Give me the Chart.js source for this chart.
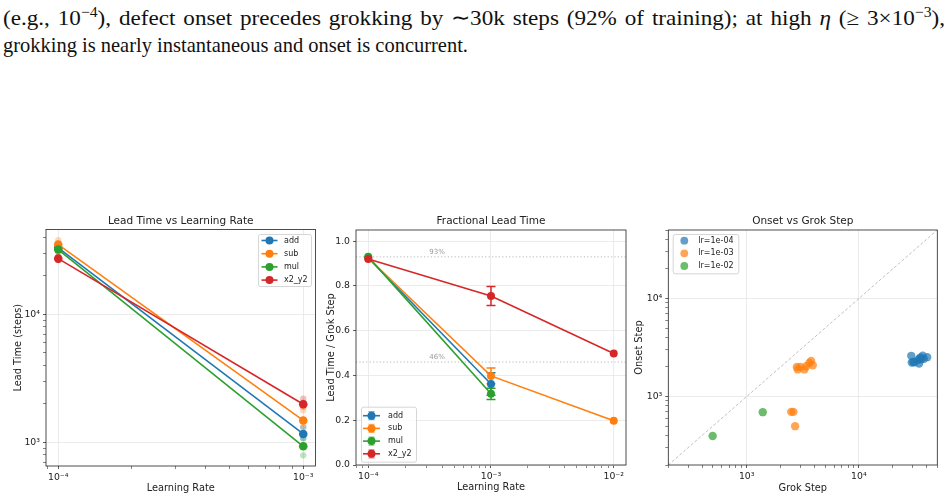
<!DOCTYPE html>
<html>
<head>
<meta charset="utf-8">
<script src="https://cdn.jsdelivr.net/npm/chart.js@4.4.0/dist/chart.umd.min.js"></script>
<style>
body { margin: 0; background: #fff; width: 951px; height: 500px; overflow: hidden; position: relative; }
.ln { position: absolute; left: 3px; font-family: 'Liberation Serif', serif; font-size: 22px; line-height: 27px; white-space: nowrap; color: #111; transform-origin: 0 0; }
.ln sup { font-size: 0.68em; line-height: 0; vertical-align: 0.55em; }
.box { position: absolute; }
</style>
</head>
<body>
<div id="t1" class="ln" style="top:4px">(e.g., 10<sup>−4</sup>), defect onset precedes grokking by ∼30k steps (92% of training); at high <i>η</i> (≥ 3×10<sup>−3</sup>),</div>
<div id="t2" class="ln" style="top:31px">grokking is nearly instantaneous and onset is concurrent.</div>

<div class="box" style="left:0;top:205px;width:320px;height:295px"><canvas id="c1"></canvas></div>
<div class="box" style="left:320px;top:205px;width:310px;height:295px"><canvas id="c2"></canvas></div>
<div class="box" style="left:630px;top:205px;width:321px;height:295px"><canvas id="c3"></canvas></div>

<script>
// ---- data ----
const tasks = ['add', 'sub', 'mul', 'x2_y2'];
const colors = ['#1f77b4', '#ff7f0e', '#2ca02c', '#d62728'];

// panel 1: lead time (steps) vs lr
const leadLrs = [1e-4, 1e-3];
const leadAdd = [33000, 1160];
const leadSub = [35000, 1480];
const leadMul = [32000, 930];
const leadX2 = [27200, 1980];
// individual runs (faint dots)
const seedLrs = [1e-4, 1e-4, 1e-4, 1e-3, 1e-3, 1e-3];
const seedAdd = [31500, 33500, 34500, 1300, 1150, 1080];
const seedSub = [37800, 34000, 33000, 1780, 1500, 1330];
const seedMul = [30500, 32500, 33500, 1075, 930, 790];
const seedX2 = [26500, 27500, 28000, 2190, 2040, 1890];

// panel 2: fractional lead time
const fracLrs = [1e-4, 1e-3, 1e-2];
const fracAdd = [0.925, 0.362, null];
const fracSub = [0.925, 0.398, 0.198];
const fracMul = [0.93, 0.318, null];
const fracX2 = [0.92, 0.755, 0.498];
const errAdd = [0, 0.05, 0];
const errSub = [0, 0.035, 0];
const errMul = [0, 0.025, 0];
const errX2 = [0, 0.042, 0];
const refLevels = [0.93, 0.46];
const refLabels = ['93%', '46%'];

// panel 3: onset vs grok step
const scatterLabels = ['lr=1e-04', 'lr=1e-03', 'lr=1e-02'];
const grok1e4 = [29300, 29600, 31300, 33500, 34700, 37100, 40600, 34400, 36000, 38000, 30500, 35500];
const onset1e4 = [2600, 2220, 2240, 2350, 2440, 2610, 2520, 2170, 2400, 2420, 2250, 2500];
const grok1e3 = [2850, 2800, 3270, 3390, 3620, 3750, 3880, 3000, 2490, 2610, 2700];
const onset1e3 = [1890, 2000, 1890, 2036, 2200, 2310, 2085, 2000, 697, 697, 498];
const grok1e2 = [497, 1390];
const onset1e2 = [396, 692];

// ---- helpers ----
const FONT = "'DejaVu Sans', sans-serif";
const SUP = {'-': '⁻', '0': '⁰', '1': '¹', '2': '²', '3': '³', '4': '⁴', '5': '⁵'};
function powLabel(v) {
  const e = Math.round(Math.log10(v));
  return '10' + String(e).split('').map(c => SUP[c]).join('');
}
function logTicks(min, max) {
  const out = [];
  for (let e = Math.floor(Math.log10(min)); e <= Math.ceil(Math.log10(max)); e++) {
    for (let m = 1; m < 10; m++) {
      const v = m * Math.pow(10, e);
      if (v >= min * 0.9999 && v <= max * 1.0001) out.push({value: v, major: m === 1});
    }
  }
  return out;
}
function pts(xs, ys) {
  return xs.map((x, i) => ({x: x, y: ys[i]})).filter(p => p.y !== null);
}
function hexA(hex, a) {
  const n = parseInt(hex.slice(1), 16);
  return 'rgba(' + (n >> 16) + ',' + ((n >> 8) & 255) + ',' + (n & 255) + ',' + a + ')';
}

function axis(type, min, max, size, isX, tickList, fmt) {
  return {
    type: type, min: min, max: max,
    afterFit: s => { if (isX) s.height = size; else s.width = size; },
    afterBuildTicks: s => { s.ticks = tickList(); },
    grid: {
      color: c => (c.tick && c.tick.major) ? '#e6e6e6' : 'rgba(0,0,0,0)',
      lineWidth: 0.8,
      tickColor: '#333',
      tickLength: 3,
      tickWidth: c => (c.tick && c.tick.major) ? 0.8 : 0.6
    },
    border: {display: false},
    ticks: {
      autoSkip: false, maxRotation: 0, padding: 3, color: '#222',
      font: {size: 9.3, family: FONT},
      callback: fmt
    }
  };
}
const logFmt = (v, i, arr) => arr[i].major ? powLabel(v) : '';

function drawLegend(ctx, L) {
  ctx.save();
  ctx.fillStyle = 'rgba(255,255,255,0.8)';
  ctx.strokeStyle = '#cccccc';
  ctx.lineWidth = 0.8;
  ctx.beginPath();
  ctx.roundRect(L.x + 0.5, L.y + 0.5, L.w, L.h, 2);
  ctx.fill();
  ctx.stroke();
  ctx.font = '8px ' + FONT;
  ctx.textBaseline = 'middle';
  L.items.forEach((it, i) => {
    const cy = L.y + L.first + i * L.step;
    if (it.kind === 'dot') {
      ctx.fillStyle = hexA(it.color, 0.7);
      ctx.beginPath(); ctx.arc(L.x + L.mark, cy, 3.9, 0, Math.PI * 2); ctx.fill();
    } else {
      const x0 = L.x + L.h0, x1 = L.x + L.h1, xm = (x0 + x1) / 2;
      ctx.strokeStyle = it.color; ctx.lineWidth = 1.6;
      ctx.beginPath(); ctx.moveTo(x0, cy); ctx.lineTo(x1, cy); ctx.stroke();
      if (it.kind === 'err') {
        ctx.strokeStyle = hexA(it.color, 0.6); ctx.lineWidth = 1.2;
        ctx.beginPath();
        ctx.moveTo(xm, cy - 4); ctx.lineTo(xm, cy + 4);
        ctx.moveTo(xm - 3, cy - 4); ctx.lineTo(xm + 3, cy - 4);
        ctx.moveTo(xm - 3, cy + 4); ctx.lineTo(xm + 3, cy + 4);
        ctx.stroke();
      }
      ctx.fillStyle = it.color;
      ctx.beginPath(); ctx.arc(xm, cy, 4, 0, Math.PI * 2); ctx.fill();
    }
    ctx.fillStyle = '#222';
    ctx.fillText(it.label, L.x + L.text, cy);
  });
  ctx.restore();
}

function deco(cfg) {
  return {
    id: 'deco',
    beforeDatasetsDraw(chart) { if (cfg.under) cfg.under(chart); },
    afterDraw(chart) {
      const ctx = chart.ctx, a = chart.chartArea;
      ctx.save();
      ctx.strokeStyle = '#222';
      ctx.lineWidth = 0.8;
      ctx.strokeRect(a.left, a.top, a.right - a.left, a.bottom - a.top);
      ctx.fillStyle = '#222';
      ctx.textAlign = 'center';
      ctx.textBaseline = 'middle';
      ctx.font = '10.5px ' + FONT;
      ctx.fillText(cfg.title, (a.left + a.right) / 2, cfg.titleY);
      ctx.font = '9.8px ' + FONT;
      ctx.fillText(cfg.xLabel, (a.left + a.right) / 2, cfg.xLabelY);
      ctx.translate(cfg.yLabelX, (a.top + a.bottom) / 2);
      ctx.rotate(-Math.PI / 2);
      ctx.fillText(cfg.yLabel, 0, 0);
      ctx.restore();
      drawLegend(ctx, cfg.legend);
    }
  };
}

function baseOptions(padTop, padRight, scales) {
  return {
    responsive: true, maintainAspectRatio: false, animation: false,
    layout: {padding: {top: padTop, right: padRight, left: 0, bottom: 0}},
    plugins: {legend: {display: false}, tooltip: {enabled: false}},
    scales: scales
  };
}

// ---- panel 1 ----
const leadSets = [leadAdd, leadSub, leadMul, leadX2];
const seedSets = [seedAdd, seedSub, seedMul, seedX2];
const ds1 = [];
tasks.forEach((t, i) => {
  ds1.push({
    label: t, data: pts(leadLrs, leadSets[i]), order: 4 - i,
    borderColor: colors[i], backgroundColor: colors[i], borderWidth: 1.6,
    pointRadius: 4.3, pointBorderWidth: 0, pointBackgroundColor: colors[i], tension: 0
  });
  ds1.push({
    label: t + ' runs', data: pts(seedLrs, seedSets[i]), order: 10 + i, showLine: false,
    pointRadius: 3.2, pointBorderWidth: 0, pointBackgroundColor: hexA(colors[i], 0.3)
  });
});
const X1 = [8.913e-5, 1.122e-3], Y1 = [652, 45900];
new Chart(document.getElementById('c1'), {
  type: 'line',
  data: {datasets: ds1},
  options: baseOptions(24.5, 4.5, {
    x: axis('logarithmic', X1[0], X1[1], 34, true, () => logTicks(X1[0], X1[1]), logFmt),
    y: axis('logarithmic', Y1[0], Y1[1], 46, false, () => logTicks(Y1[0], Y1[1]), logFmt)
  }),
  plugins: [deco({
    title: 'Lead Time vs Learning Rate', titleY: 16,
    xLabel: 'Learning Rate', xLabelY: 283,
    yLabel: 'Lead Time (steps)', yLabelX: 18,
    legend: {x: 258, y: 29, w: 53, h: 52, first: 6.5, step: 13.2, h0: 3.5, h1: 19.5, text: 26,
      items: tasks.map((t, i) => ({label: t, color: colors[i], kind: 'line'}))}
  })]
});

// ---- panel 2 ----
const fracSets = [fracAdd, fracSub, fracMul, fracX2];
const errSets = [errAdd, errSub, errMul, errX2];
const ds2 = tasks.map((t, i) => ({
  label: t, data: pts(fracLrs, fracSets[i]), order: 4 - i,
  borderColor: colors[i], backgroundColor: colors[i], borderWidth: 1.6,
  pointRadius: 4, pointBorderWidth: 0, pointBackgroundColor: colors[i], tension: 0
}));
const X2 = [7.943e-5, 0.01259];
new Chart(document.getElementById('c2'), {
  type: 'line',
  data: {datasets: ds2},
  options: baseOptions(25, 3.3, {
    x: axis('logarithmic', X2[0], X2[1], 35, true, () => logTicks(X2[0], X2[1]), logFmt),
    y: axis('linear', 0, 1.05, 36, false,
      () => [0, 0.2, 0.4, 0.6, 0.8, 1.0].map(v => ({value: v, major: true})),
      v => v.toFixed(1))
  }),
  plugins: [deco({
    title: 'Fractional Lead Time', titleY: 16,
    xLabel: 'Learning Rate', xLabelY: 282.7,
    yLabel: 'Lead Time / Grok Step', yLabelX: 11,
    legend: {x: 41, y: 201.7, w: 55, h: 55, first: 9, step: 12.7, h0: 2, h1: 19, text: 27,
      items: tasks.map((t, i) => ({label: t, color: colors[i], kind: 'err'}))},
    under(chart) {
      const ctx = chart.ctx, a = chart.chartArea, xs = chart.scales.x, ys = chart.scales.y;
      ctx.save();
      // reference lines
      refLevels.forEach((lv, k) => {
        const py = ys.getPixelForValue(lv);
        ctx.strokeStyle = 'rgba(128,128,128,0.55)';
        ctx.lineWidth = 1;
        ctx.setLineDash([1.2, 2.2]);
        ctx.beginPath(); ctx.moveTo(a.left, py); ctx.lineTo(a.right, py); ctx.stroke();
        ctx.setLineDash([]);
        ctx.fillStyle = '#9a9a9a';
        ctx.font = '7px ' + FONT;
        ctx.textAlign = 'center';
        ctx.textBaseline = 'alphabetic';
        ctx.fillText(refLabels[k], a.left + 0.3 * (a.right - a.left), py - 3);
      });
      // error bars
      tasks.forEach((t, i) => {
        ctx.strokeStyle = colors[i];
        ctx.lineWidth = 1.5;
        fracLrs.forEach((lr, j) => {
          const v = fracSets[i][j], e = errSets[i][j];
          if (v === null || !e) return;
          const px = xs.getPixelForValue(lr);
          const y0 = ys.getPixelForValue(v - e), y1 = ys.getPixelForValue(v + e);
          ctx.beginPath();
          ctx.moveTo(px, y0); ctx.lineTo(px, y1);
          ctx.moveTo(px - 4.5, y0); ctx.lineTo(px + 4.5, y0);
          ctx.moveTo(px - 4.5, y1); ctx.lineTo(px + 4.5, y1);
          ctx.stroke();
        });
      });
      ctx.restore();
    }
  })]
});

// ---- panel 3 ----
const scatterX = [grok1e4, grok1e3, grok1e2];
const scatterY = [onset1e4, onset1e3, onset1e2];
const B3 = [200, 50000];
const ds3 = scatterLabels.map((l, i) => ({
  label: l, data: pts(scatterX[i], scatterY[i]), showLine: false, order: 3 - i,
  pointRadius: 4.2, pointBorderWidth: 0, pointBackgroundColor: hexA(colors[i], 0.7)
}));
ds3.push({
  label: 'y=x', data: pts(B3, B3), order: 10,
  borderColor: 'rgba(128,128,128,0.55)', borderWidth: 0.9, borderDash: [3, 2], pointRadius: 0
});
new Chart(document.getElementById('c3'), {
  type: 'line',
  data: {datasets: ds3},
  options: baseOptions(25, 13.7, {
    x: axis('logarithmic', B3[0], B3[1], 35, true, () => logTicks(B3[0], B3[1]), logFmt),
    y: axis('logarithmic', B3[0], B3[1], 38.3, false, () => logTicks(B3[0], B3[1]), logFmt)
  }),
  plugins: [deco({
    title: 'Onset vs Grok Step', titleY: 16,
    xLabel: 'Grok Step', xLabelY: 283,
    yLabel: 'Onset Step', yLabelX: 9.3,
    legend: {x: 42.7, y: 29, w: 65.6, h: 39.3, first: 6.7, step: 12.65, mark: 11.6, text: 25.6,
      items: scatterLabels.map((l, i) => ({label: l, color: colors[i], kind: 'dot'}))}
  })]
});

// fit the serif paragraph lines: first line slightly justified, each line to its width
function fitLine(el, target) {
  el.style.transform = 'scaleX(' + (target / el.getBoundingClientRect().width) + ')';
}
const t1 = document.getElementById('t1'), t2 = document.getElementById('t2');
t1.style.wordSpacing = '2px';
fitLine(t1, 942);
fitLine(t2, 465);
</script>
</body>
</html>
